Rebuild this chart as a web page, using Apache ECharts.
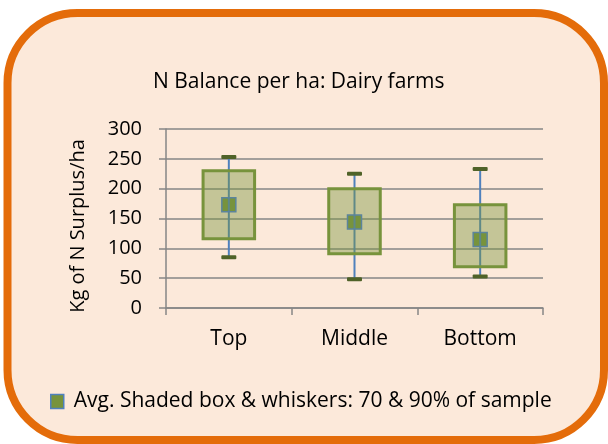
<!DOCTYPE html>
<html>
<head>
<meta charset="utf-8">
<script src="https://cdn.jsdelivr.net/npm/echarts@6/dist/echarts.min.js"></script>
<style>
html, body { margin: 0; padding: 0; background: #ffffff; }
#chart { width: 608px; height: 444px; }
</style>
</head>
<body>
<div id="chart"></div>
<script>
// categories and values (kg N / ha)
var categories = ['Top', 'Middle', 'Bottom'];
var whiskerLow = [85, 48, 53];
var boxLow = [116, 91, 69];
var avgVals = [173, 144, 115];
var boxHigh = [230, 200, 173];
var whiskerHigh = [253, 225, 233];
var yTicks = [0, 50, 100, 150, 200, 250, 300];

var legendName = 'Avg. Shaded box & whiskers: 70 & 90% of sample';
var fontName = '"Open Sans", sans-serif';

var boxData = [];
for (var i = 0; i < categories.length; i++) {
    boxData.push([i, whiskerLow[i], boxLow[i], avgVals[i], boxHigh[i], whiskerHigh[i]]);
}

function renderBox(params, api) {
    var idx = api.value(0);
    var pLow = api.coord([idx, api.value(1)]);
    var pBoxLow = api.coord([idx, api.value(2)]);
    var pAvg = api.coord([idx, api.value(3)]);
    var pBoxHigh = api.coord([idx, api.value(4)]);
    var pHigh = api.coord([idx, api.value(5)]);
    var cx = pAvg[0];
    var bw = api.size([1, 0])[0] * 0.41;
    var cap = 15;
    var mk = 14;
    return {
        type: 'group',
        children: [
            // whisker line
            { type: 'line', shape: { x1: cx, y1: pLow[1], x2: cx, y2: pHigh[1] },
              style: { stroke: '#4f81bd', lineWidth: 2 } },
            // shaded box
            { type: 'rect', shape: { x: cx - bw / 2, y: pBoxHigh[1], width: bw, height: pBoxLow[1] - pBoxHigh[1] },
              style: { fill: 'rgba(119,147,60,0.42)', stroke: '#77933c', lineWidth: 3 } },
            // caps
            { type: 'rect', shape: { x: cx - cap / 2, y: pHigh[1] - 2, width: cap, height: 4, r: 1 },
              style: { fill: '#4f6228' } },
            { type: 'rect', shape: { x: cx - cap / 2, y: pLow[1] - 2, width: cap, height: 4, r: 1 },
              style: { fill: '#4f6228' } },
            // average marker
            { type: 'rect', shape: { x: cx - mk / 2, y: pAvg[1] - mk / 2, width: mk, height: mk },
              style: { fill: '#77933c', stroke: '#5b849c', lineWidth: 1.5 } },
            { type: 'line', shape: { x1: cx, y1: pAvg[1] - mk / 2, x2: cx, y2: pAvg[1] + mk / 2 },
              style: { stroke: 'rgba(79,129,189,0.6)', lineWidth: 2 } }
        ]
    };
}

var myChart = echarts.init(document.getElementById('chart'), null, { renderer: 'canvas' });

var option = {
    backgroundColor: '#ffffff',
    animation: false,
    textStyle: { fontFamily: fontName },
    title: {
        text: 'N Balance per ha: Dairy farms',
        left: 153,
        top: 72,
        padding: 0,
        textStyle: { fontFamily: fontName, fontSize: 21, fontWeight: 'normal', color: '#000000' }
    },
    legend: {
        left: 50,
        top: 391,
        padding: 0,
        itemWidth: 13,
        itemHeight: 14,
        data: [{
            name: legendName,
            icon: 'rect',
            itemStyle: { color: '#77933c', borderColor: '#4f81bd', borderWidth: 1.5 }
        }],
        textStyle: { fontFamily: fontName, fontSize: 21, color: '#000000', padding: [0, 0, 0, 5] }
    },
    graphic: [
        {
            type: 'rect',
            z: -10,
            silent: true,
            shape: { x: 7.5, y: 13, width: 596.5, height: 427, r: 70 },
            style: { fill: '#fce9da', stroke: '#e46c0a', lineWidth: 8 }
        },
        {
            type: 'text',
            x: 78,
            y: 226,
            rotation: Math.PI / 2,
            style: {
                text: 'Kg of N Surplus/ha',
                fontFamily: fontName,
                fontSize: 20,
                fill: '#000000',
                align: 'center',
                verticalAlign: 'middle'
            }
        }
    ],
    grid: { left: 166, right: 65, top: 129, bottom: 136 },
    xAxis: {
        type: 'category',
        data: categories,
        boundaryGap: true,
        axisLine: { lineStyle: { color: '#868686', width: 1.5 } },
        axisTick: { show: true, length: 7, lineStyle: { color: '#868686', width: 1.5 } },
        axisLabel: { color: '#000000', fontSize: 21, fontFamily: fontName, margin: 21 },
        splitLine: { show: false }
    },
    yAxis: {
        type: 'value',
        min: yTicks[0],
        max: yTicks[yTicks.length - 1],
        interval: yTicks[1] - yTicks[0],
        axisLine: { show: true, lineStyle: { color: '#868686', width: 1.5 } },
        axisTick: { show: true, length: 7, lineStyle: { color: '#868686', width: 1.5 } },
        axisLabel: { color: '#000000', fontSize: 20, fontFamily: fontName, margin: 24 },
        splitLine: { show: true, lineStyle: { color: '#868686', width: 1.5 } }
    },
    series: [{
        name: legendName,
        type: 'custom',
        renderItem: renderBox,
        itemStyle: { color: '#77933c', borderColor: '#4f81bd' },
        encode: { x: 0, y: [1, 2, 3, 4, 5] },
        data: boxData,
        z: 5
    }]
};

myChart.setOption(option);
</script>
</body>
</html>
